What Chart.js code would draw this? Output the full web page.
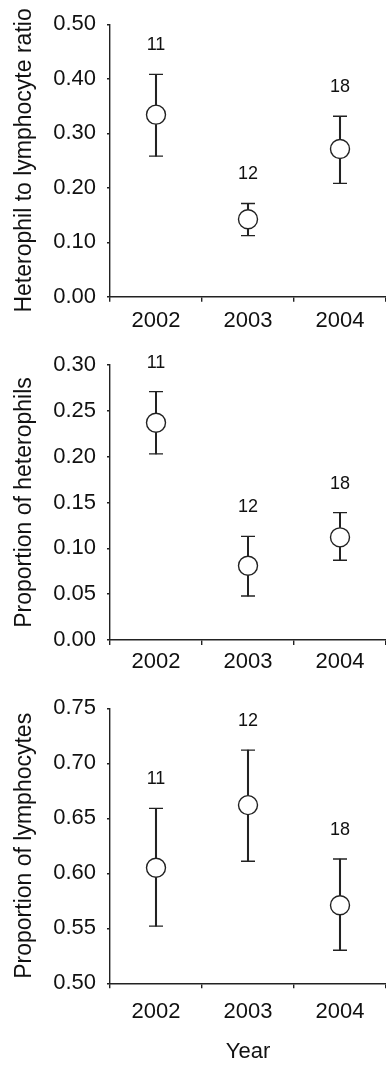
<!DOCTYPE html>
<html>
<head>
<meta charset="utf-8">
<script src="https://cdn.jsdelivr.net/npm/chart.js@4/dist/chart.umd.min.js"></script>
<style>
  body { margin: 0; background: #fff; }
  canvas { display: block; }
</style>
</head>
<body>
<canvas id="c1" width="386" height="340"></canvas>
<canvas id="c2" width="386" height="340"></canvas>
<canvas id="c3" width="386" height="385"></canvas>
<script>
// categories and sample sizes
const years = ["2002", "2003", "2004"];
const sampleSizes = ["11", "12", "18"];

// heterophil to lymphocyte ratio
const hlMean = [0.334, 0.142, 0.271];
const hlUpper = [0.408, 0.171, 0.331];
const hlLower = [0.258, 0.112, 0.208];

// proportion of heterophils
const hetMean = [0.237, 0.081, 0.112];
const hetUpper = [0.271, 0.113, 0.139];
const hetLower = [0.203, 0.048, 0.087];

// proportion of lymphocytes
const lymMean = [0.605, 0.662, 0.571];
const lymUpper = [0.659, 0.712, 0.613];
const lymLower = [0.552, 0.611, 0.530];

const ink = "#222";
const font = "'Liberation Sans', Arial, sans-serif";

// writes the n above each upper error bar
const nLabelPlugin = {
  id: "nLabels",
  afterDatasetsDraw(chart, args, opts) {
    const ctx = chart.ctx;
    const x = chart.scales.x, y = chart.scales.y;
    ctx.save();
    ctx.fillStyle = "#111";
    ctx.font = "18px " + font;
    ctx.textAlign = "center";
    ctx.textBaseline = "middle";
    opts.upper.forEach(function (v, i) {
      ctx.fillText(sampleSizes[i], x.getPixelForValue(i), y.getPixelForValue(v) - 29);
    });
    ctx.restore();
  }
};

function makePanel(id, mean, upper, lower, cfg) {
  const bars = lower.map(function (lo, i) { return [lo, upper[i]]; });
  new Chart(document.getElementById(id), {
    type: "bar",
    data: {
      labels: years,
      datasets: [
        {
          type: "line",
          data: mean,
          showLine: false,
          pointRadius: 9.5,
          pointBackgroundColor: "#fff",
          pointBorderColor: ink,
          pointBorderWidth: 1.4,
          order: 0
        },
        {
          type: "line",
          data: upper,
          showLine: false,
          pointStyle: "line",
          pointRadius: 7,
          pointBorderColor: ink,
          pointBorderWidth: 1.4,
          order: 1
        },
        {
          type: "line",
          data: lower,
          showLine: false,
          pointStyle: "line",
          pointRadius: 7,
          pointBorderColor: ink,
          pointBorderWidth: 1.4,
          order: 1
        },
        {
          type: "bar",
          data: bars,
          backgroundColor: ink,
          barThickness: 1.4,
          order: 2
        }
      ]
    },
    options: {
      responsive: false,
      animation: false,
      events: [],
      layout: { autoPadding: false, padding: { top: cfg.top, left: 0, right: 0, bottom: 0 } },
      plugins: {
        legend: { display: false },
        tooltip: { enabled: false },
        nLabels: { upper: upper }
      },
      scales: {
        x: {
          offset: true,
          grid: { drawOnChartArea: false, drawTicks: true, tickLength: 5, color: ink, lineWidth: 1.4 },
          border: { color: ink, width: 1.4 },
          ticks: { color: "#111", font: { family: font, size: 22 }, padding: cfg.xPad, maxRotation: 0 },
          title: {
            display: !!cfg.xTitle,
            text: cfg.xTitle || "",
            color: "#111",
            font: { family: font, size: 22 },
            padding: { top: 0, bottom: 0 }
          },
          afterFit: function (s) {
            s.height = cfg.xHeight;
            s.paddingLeft = 0;
            s.paddingRight = 0;
          }
        },
        y: {
          min: cfg.min,
          max: cfg.max,
          grid: { drawOnChartArea: false, drawTicks: true, tickLength: 3, color: ink, lineWidth: 1.4 },
          border: { color: ink, width: 1.4 },
          ticks: {
            stepSize: cfg.step,
            color: "#111",
            font: { family: font, size: 22 },
            padding: 11,
            callback: function (v) { return Number(v).toFixed(2); }
          },
          title: {
            display: true,
            text: cfg.yTitle,
            color: "#111",
            font: { family: font, size: 23 },
            padding: { top: 11, bottom: 0 }
          },
          afterFit: function (s) { s.width = 110; }
        }
      }
    },
    plugins: [nLabelPlugin]
  });
}

makePanel("c1", hlMean, hlUpper, hlLower, {
  min: 0, max: 0.5, step: 0.1, top: 22.7, xHeight: 43.3, xPad: 6,
  yTitle: "Heterophil to lymphocyte ratio"
});
makePanel("c2", hetMean, hetUpper, hetLower, {
  min: 0, max: 0.3, step: 0.05, top: 25, xHeight: 40, xPad: 4,
  yTitle: "Proportion of heterophils"
});
makePanel("c3", lymMean, lymUpper, lymLower, {
  min: 0.5, max: 0.75, step: 0.05, top: 28.3, xHeight: 81.7, xPad: 10,
  yTitle: "Proportion of lymphocytes", xTitle: "Year"
});
</script>
</body>
</html>
